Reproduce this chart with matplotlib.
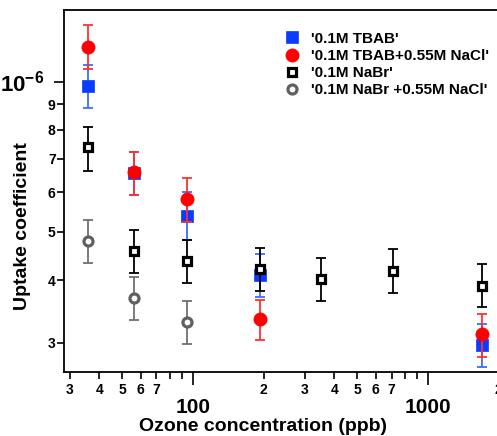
import matplotlib
matplotlib.use('Agg')
import matplotlib.pyplot as plt
import matplotlib.ticker as ticker
import numpy as np

plt.rcParams['font.family'] = 'Liberation Sans'
plt.rcParams['font.weight'] = 'bold'
plt.rcParams['mathtext.fontset'] = 'custom'
plt.rcParams['mathtext.rm'] = 'Liberation Sans:bold'
plt.rcParams['mathtext.bf'] = 'Liberation Sans:bold'

# Data (uptake coefficient in units of 1e-6)
tbab_x = [35.7, 56.1, 94.6, 192.8, 1702]
tbab_y = [0.98, 0.655, 0.538, 0.410, 0.297]
tbab_lo = [0.885, 0.593, 0.482, 0.371, 0.2685]
tbab_hi = [1.08, 0.724, 0.600, 0.452, 0.327]

tbab_nacl_x = [35.7, 56.1, 94.6, 192.8, 1702]
tbab_nacl_y = [1.175, 0.658, 0.582, 0.334, 0.312]
tbab_nacl_lo = [1.06, 0.593, 0.524, 0.303, 0.281]
tbab_nacl_hi = [1.297, 0.724, 0.641, 0.366, 0.343]

nabr_x = [35.7, 56.1, 94.6, 192.8, 350.6, 711, 1702]
nabr_y = [0.738, 0.458, 0.437, 0.421, 0.402, 0.418, 0.390]
nabr_lo = [0.663, 0.414, 0.395, 0.381, 0.363, 0.378, 0.353]
nabr_hi = [0.811, 0.505, 0.482, 0.464, 0.443, 0.461, 0.431]

nabr_nacl_x = [35.7, 56.1, 94.6]
nabr_nacl_y = [0.480, 0.368, 0.330]
nabr_nacl_lo = [0.434, 0.333, 0.298]
nabr_nacl_hi = [0.528, 0.406, 0.364]


def draw(ax, x, y, lo, hi, ecolor, z, label, **mk):
    y = np.array(y) * 1e-6
    err = [y - np.array(lo) * 1e-6, np.array(hi) * 1e-6 - y]
    ax.errorbar(x, y, yerr=err, fmt='none', ecolor=ecolor, elinewidth=1.3,
                capsize=3.6, capthick=1.3, zorder=z)
    return ax.plot(x, y, ls='none', zorder=z + 0.5, label=label, **mk)[0]


fig = plt.figure(figsize=(4.97, 4.36), dpi=100)
ax = fig.add_axes([0.1288, 0.1468, 0.8746, 0.830])

h4 = draw(ax, nabr_nacl_x, nabr_nacl_y, nabr_nacl_lo, nabr_nacl_hi, '#707070', 3,
          "'0.1M NaBr +0.55M NaCl'",
          marker='o', ms=6.5, mfc='white', mec='#606060', mew=2.3)
h1 = draw(ax, tbab_x, tbab_y, tbab_lo, tbab_hi, '#3a6cff', 4, "'0.1M TBAB'",
          marker='s', ms=9, mfc='#0a3cff', mec='#0a3cff', mew=0.5)
h2 = draw(ax, tbab_nacl_x, tbab_nacl_y, tbab_nacl_lo, tbab_nacl_hi, '#ff3030', 5,
          "'0.1M TBAB+0.55M NaCl'",
          marker='o', ms=9.5, mfc='#ff0000', mec='#ff0000', mew=0.5)
h3 = draw(ax, nabr_x, nabr_y, nabr_lo, nabr_hi, 'black', 6, "'0.1M NaBr'",
          marker='s', ms=6.3, mfc='white', mec='black', mew=2.3)

ax.set_xscale('log')
ax.set_yscale('log')
ax.set_xlim(28.3, 2000)
ax.set_ylim(2.62e-7, 1.39e-6)

# x ticks
ax.xaxis.set_major_locator(ticker.FixedLocator([100, 1000]))
ax.xaxis.set_major_formatter(ticker.FixedFormatter(['100', '1000']))
x_minor = [30, 40, 50, 60, 70, 80, 90, 200, 300, 400, 500, 600, 700, 800, 900, 2000]
x_minor_lbl = ['3', '4', '5', '6', '7', '', '', '2', '3', '4', '5', '6', '7', '', '', '2']
ax.xaxis.set_minor_locator(ticker.FixedLocator(x_minor))
ax.xaxis.set_minor_formatter(ticker.FixedFormatter(x_minor_lbl))

# y ticks
ax.yaxis.set_major_locator(ticker.FixedLocator([1e-6]))
ax.yaxis.set_major_formatter(ticker.FixedFormatter([r'$10^{-6}$']))
y_minor = [3e-7, 4e-7, 5e-7, 6e-7, 7e-7, 8e-7, 9e-7]
ax.yaxis.set_minor_locator(ticker.FixedLocator(y_minor))
ax.yaxis.set_minor_formatter(ticker.FixedFormatter(['3', '4', '5', '6', '7', '8', '9']))

ax.tick_params(axis='x', which='major', length=9, width=1.2, labelsize=15, pad=10)
ax.tick_params(axis='x', which='minor', length=5, width=1.2, labelsize=10, pad=3)
ax.tick_params(axis='y', which='major', length=7, width=1.2, labelsize=16, pad=7)
ax.tick_params(axis='y', which='minor', length=5, width=1.2, labelsize=10, pad=1)

for s in ['left', 'bottom', 'top']:
    ax.spines[s].set_linewidth(1.3)
ax.spines['right'].set_visible(False)

ax.set_xlabel('Ozone concentration (ppb)', fontsize=14, fontweight='bold')
ax.set_ylabel('Uptake coefficient', fontsize=14, fontweight='bold')
ax.xaxis.set_label_coords(0.458, -0.127)
ax.yaxis.set_label_coords(-0.076, 0.403)

ax.legend([h1, h2, h3, h4], [h1.get_label(), h2.get_label(), h3.get_label(), h4.get_label()],
          loc='upper left', bbox_to_anchor=(0.506, 0.94), frameon=False,
          fontsize=11, handlelength=1.0, handletextpad=0.8, labelspacing=0.2,
          borderaxespad=0, borderpad=0)

fig.savefig('out.png', dpi=100)
